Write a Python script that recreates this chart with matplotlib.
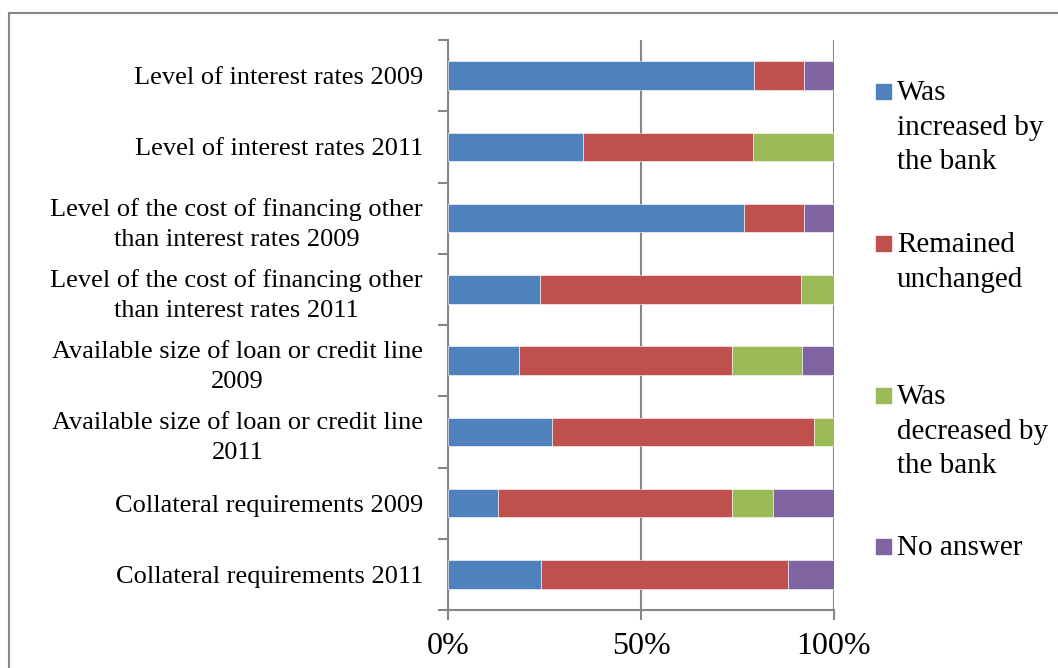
import numpy as np
import matplotlib
matplotlib.use("Agg")
import matplotlib.pyplot as plt
from matplotlib.lines import Line2D
from matplotlib.patches import Rectangle

plt.rcParams['font.family'] = ['Liberation Serif', 'DejaVu Serif']

categories = [
    "Level of interest rates 2009",
    "Level of interest rates 2011",
    "Level of the cost of financing other\nthan interest rates 2009",
    "Level of the cost of financing other\nthan interest rates 2011",
    "Available size of loan or credit line\n2009",
    "Available size of loan or credit line\n2011",
    "Collateral requirements 2009",
    "Collateral requirements 2011",
]

increased = [79.3, 35.1, 76.7, 23.9, 18.4, 27.0, 13.0, 24.2]
unchanged = [13.0, 43.8, 15.6, 67.5, 55.1, 67.9, 60.5, 63.9]
decreased = [0.0, 21.1, 0.0, 8.6, 18.2, 5.1, 10.7, 0.0]
no_answer = [7.7, 0.0, 7.7, 0.0, 8.3, 0.0, 15.8, 11.9]

series_names = ["Was\nincreased by\nthe bank", "Remained\nunchanged",
                "Was\ndecreased by\nthe bank", "No answer"]
colors = ['#4F81BD', '#C0504D', '#9BBB59', '#8064A2']

W, H = 1058, 668
fig = plt.figure(figsize=(W / 100, H / 100), dpi=100)
ax = fig.add_axes([448 / W, 1 - 610 / H, (834 - 448) / W, (610 - 40) / H])

y = np.arange(len(categories))
left = np.zeros(len(categories))
for vals, col in zip([increased, unchanged, decreased, no_answer], colors):
    vals = np.array(vals)
    ax.barh(y, vals, left=left, height=0.4, color=col,
            edgecolor='white', linewidth=0.4, zorder=3)
    left += vals

grey = '#868686'
ax.set_xlim(0, 100)
ax.set_ylim(len(categories) - 0.5, -0.5)
ax.set_xticks([0, 50, 100])
ax.set_xticklabels(['0%', '50%', '100%'], fontsize=23)
ax.set_yticks(y)
ax.set_yticklabels(categories, fontsize=19, multialignment='center',
                   linespacing=1.45)
ax.set_yticks(np.arange(-0.5, len(categories), 1), minor=True)
ax.tick_params(axis='y', which='major', length=0, pad=18)
ax.tick_params(axis='y', which='minor', length=7, width=1.5, color=grey)
ax.tick_params(axis='x', length=7, width=1.5, color=grey, pad=9)
ax.grid(axis='x', color=grey, linewidth=1.5, zorder=0)
for s in ['top', 'right']:
    ax.spines[s].set_visible(False)
for s in ['left', 'bottom']:
    ax.spines[s].set_color(grey)
    ax.spines[s].set_linewidth(1.5)

# legend drawn beside the plot, markers level with the first text line
legend_rows = [91, 243, 395, 546]
for name, col, yc in zip(series_names, colors, legend_rows):
    fig.add_artist(Rectangle((876 / W, 1 - (yc + 7.5) / H), 15 / W, 15 / H,
                             transform=fig.transFigure, color=col))
    fig.text(897 / W, 1 - (yc - 11) / H, name, fontsize=21, ha='left',
             va='top', linespacing=1.43)

# outer chart frame
fig.add_artist(Line2D([9 / W, 9 / W], [0, 1 - 13 / H], color=grey,
                      linewidth=1.5, transform=fig.transFigure))
fig.add_artist(Line2D([9 / W, 1], [1 - 13 / H, 1 - 13 / H], color=grey,
                      linewidth=1.5, transform=fig.transFigure))

fig.savefig('out.png', dpi=100)
